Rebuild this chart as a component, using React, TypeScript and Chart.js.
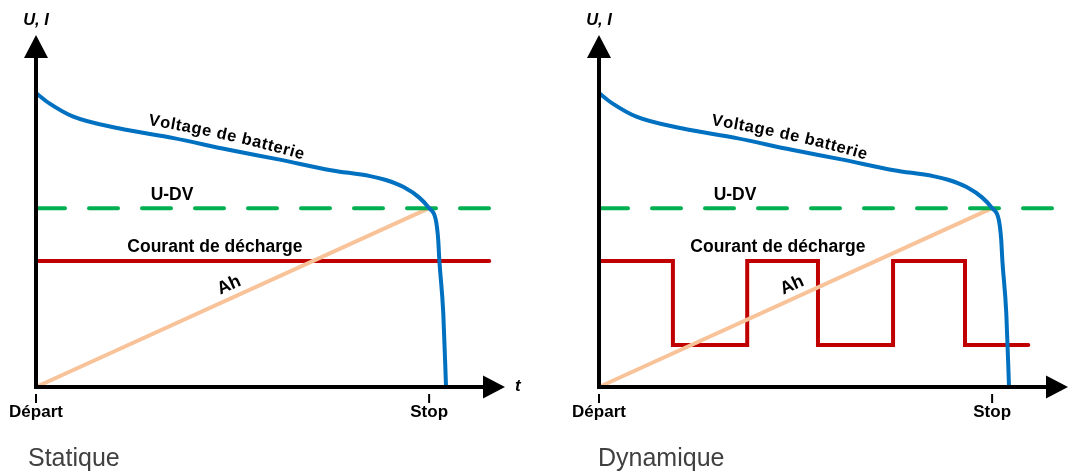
import React, { useEffect, useRef } from 'react';
import { Chart, registerables } from 'chart.js';

Chart.register(...registerables);

// ---- data (time units: Stop = 100; level units: top of axis = 100) ----
const T_MAX = 119.3;
const U_MAX = 100;
const TICK_TIMES = [0, 100];
const TICK_LABELS = ['Départ', 'Stop'];
const PANEL_TITLES = ['Statique', 'Dynamique'];

const VOLTAGE_T = [0, 3.5, 9.5, 21, 35, 49, 62, 75, 85, 89, 93.5, 97.5, 100, 101.7, 102.3, 102.6, 103.6, 104.3];
const VOLTAGE_U = [83.5, 80.5, 76.8, 73.5, 70.7, 67.4, 64.6, 61.6, 59.9, 58.8, 56.8, 53.8, 50.8, 47.5, 42, 36, 21, 0];

const UDV_LEVEL = 50.8;
const UDV_T = [0, 115.3];

const AH_T = [0, 100];
const AH_U = [0, 50.8];

const CURRENT_STATIC_T = [0, 115.3];
const CURRENT_STATIC_I = [35.8, 35.8];

// switching times and the level held from each time on
const CURRENT_DYN_T = [0, 18.8, 37.7, 55.7, 74.8, 93.1, 109.2];
const CURRENT_DYN_I = [35.8, 11.9, 35.8, 11.9, 35.8, 11.9, 11.9];

const LABEL_VOLTAGE = 'Voltage de batterie';
const LABEL_UDV = 'U-DV';
const LABEL_CURRENT = 'Courant de décharge';
const LABEL_AH = 'Ah';
const LABEL_Y = 'U, I';
const LABEL_X = 't';

const FONT = '"Liberation Sans", Arial, Helvetica, sans-serif';
const BLUE = '#0070C0';
const GREEN = '#00B050';
const RED = '#C00000';
const PEACH = '#F9C39A';

function pts(xs: number[], ys: number[]) {
  return xs.map((x, i) => ({ x, y: ys[i] }));
}

function stepPts(ts: number[], levels: number[]) {
  const out: { x: number; y: number }[] = [];
  ts.forEach((t, i) => {
    if (i > 0) out.push({ x: t, y: levels[i - 1] });
    out.push({ x: t, y: levels[i] });
  });
  return out;
}

function drawCurvedText(ctx: CanvasRenderingContext2D, text: string, x: number, y: number, a0: number, a1: number, spacing: number) {
  const total = ctx.measureText(text).width + spacing * (text.length - 1);
  let px = x, py = y, run = 0;
  for (const ch of text) {
    const w = ctx.measureText(ch).width;
    const a = ((a0 + (a1 - a0) * (run + w / 2) / total) * Math.PI) / 180;
    ctx.save();
    ctx.translate(px, py);
    ctx.rotate(a);
    ctx.fillText(ch, 0, 0);
    ctx.restore();
    px += Math.cos(a) * (w + spacing);
    py += Math.sin(a) * (w + spacing);
    run += w + spacing;
  }
}

function makePlugin(dynamic: boolean) {
  return {
    id: 'decor' + (dynamic ? 'D' : 'S'),
    afterDatasetsDraw(chart: any) {
      const ctx: CanvasRenderingContext2D = chart.ctx;
      const xs = chart.scales.x, ys = chart.scales.y;
      const X = (t: number) => xs.getPixelForValue(t);
      const Y = (u: number) => ys.getPixelForValue(u);
      const x0 = X(0), y0 = Y(0);
      const top = chart.chartArea.top, right = chart.chartArea.right;
      ctx.save();
      ctx.fillStyle = '#000';
      ctx.strokeStyle = '#000';
      ctx.lineWidth = 4;
      ctx.beginPath(); ctx.moveTo(x0, y0 + 2); ctx.lineTo(x0, top + 20); ctx.stroke();
      ctx.beginPath(); ctx.moveTo(x0 - 2, y0); ctx.lineTo(right - 20, y0); ctx.stroke();
      ctx.beginPath(); ctx.moveTo(x0, top); ctx.lineTo(x0 - 12, top + 23); ctx.lineTo(x0 + 12, top + 23); ctx.closePath(); ctx.fill();
      ctx.beginPath(); ctx.moveTo(right, y0); ctx.lineTo(right - 22, y0 - 11.5); ctx.lineTo(right - 22, y0 + 11.5); ctx.closePath(); ctx.fill();

      ctx.lineWidth = 2;
      ctx.font = `bold 17px ${FONT}`;
      ctx.textAlign = 'center';
      ctx.textBaseline = 'middle';
      TICK_TIMES.forEach((t, i) => {
        const px = X(t);
        ctx.beginPath(); ctx.moveTo(px, y0 + 7); ctx.lineTo(px, y0 + 16); ctx.stroke();
        ctx.fillText(TICK_LABELS[i], px, y0 + 25);
      });

      ctx.font = `italic bold 16.5px ${FONT}`;
      ctx.fillText(LABEL_Y, x0, top - 15);
      if (!dynamic) {
        ctx.font = `italic bold 17px ${FONT}`;
        ctx.textAlign = 'left';
        ctx.fillText(LABEL_X, right + 10, y0 - 1);
      }

      ctx.font = `bold 17.5px ${FONT}`;
      ctx.textAlign = 'center';
      ctx.fillText(LABEL_UDV, X(34.6), Y(54.5));
      ctx.fillText(LABEL_CURRENT, X(45.5), Y(39.8));

      ctx.save();
      ctx.font = `bold 18px ${FONT}`;
      ctx.translate(X(49.1), Y(28.9));
      ctx.rotate((-24.5 * Math.PI) / 180);
      ctx.fillText(LABEL_AH, 0, 0);
      ctx.restore();

      ctx.textAlign = 'left';
      ctx.textBaseline = 'alphabetic';
      ctx.font = `bold 16.5px ${FONT}`;
      drawCurvedText(ctx, LABEL_VOLTAGE, X(28.5), Y(74.4), 9, 16, 0.6);

      ctx.font = `25px ${FONT}`;
      ctx.fillStyle = '#404040';
      ctx.textBaseline = 'middle';
      ctx.fillText(PANEL_TITLES[dynamic ? 1 : 0], x0 + (dynamic ? -1 : -8), 459);
      ctx.restore();
    },
  };
}

function buildChart(canvas: HTMLCanvasElement, dynamic: boolean, pad: any) {
  const datasets: any[] = [
    {
      data: pts(VOLTAGE_T, VOLTAGE_U),
      borderColor: BLUE, borderWidth: 4, cubicInterpolationMode: 'monotone',
      borderCapStyle: 'butt', borderJoinStyle: 'round',
    },
    {
      data: pts(UDV_T, [UDV_LEVEL, UDV_LEVEL]),
      borderColor: GREEN, borderWidth: 4, borderDash: [29, 24], borderCapStyle: 'round',
    },
    {
      data: pts(AH_T, AH_U),
      borderColor: PEACH, borderWidth: 4,
    },
    dynamic
      ? {
          data: stepPts(CURRENT_DYN_T, CURRENT_DYN_I),
          borderColor: RED, borderWidth: 4, borderJoinStyle: 'miter', borderCapStyle: 'round',
        }
      : {
          data: pts(CURRENT_STATIC_T, CURRENT_STATIC_I),
          borderColor: RED, borderWidth: 4, borderCapStyle: 'round',
        },
  ];
  return new Chart(canvas, {
    type: 'line',
    data: { datasets: datasets.map((d) => ({ ...d, pointRadius: 0, fill: false, clip: false, tension: 0 })) },
    options: {
      animation: false,
      responsive: false,
      maintainAspectRatio: false,
      devicePixelRatio: 1,
      layout: { padding: pad },
      scales: {
        x: { type: 'linear', min: 0, max: T_MAX, display: false },
        y: { type: 'linear', min: 0, max: U_MAX, display: false },
      },
      plugins: { legend: { display: false }, tooltip: { enabled: false } },
    },
    plugins: [makePlugin(dynamic)],
  } as any);
}

export default function App() {
  const leftRef = useRef<HTMLCanvasElement>(null);
  const rightRef = useRef<HTMLCanvasElement>(null);
  useEffect(() => {
    const a = buildChart(leftRef.current!, false, { left: 36, right: 33, top: 35, bottom: 84 });
    const b = buildChart(rightRef.current!, true, { left: 61, right: 9, top: 35, bottom: 84 });
    return () => { a.destroy(); b.destroy(); };
  }, []);
  return (
    <div style={{ position: 'absolute', left: 0, top: 0, width: 1077, height: 471, background: '#fff' }}>
      <canvas ref={leftRef} width={538} height={471} style={{ position: 'absolute', left: 0, top: 0, width: 538, height: 471 }} />
      <canvas ref={rightRef} width={539} height={471} style={{ position: 'absolute', left: 538, top: 0, width: 539, height: 471 }} />
    </div>
  );
}
